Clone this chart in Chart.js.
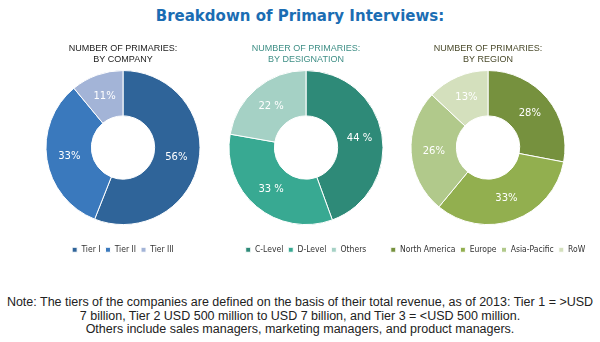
<!DOCTYPE html>
<html>
<head>
<meta charset="utf-8">
<script src="https://cdn.jsdelivr.net/npm/chart.js@4"></script>
<style>
    body { margin: 0; background: #fff; width: 600px; height: 342px; position: relative; overflow: hidden; }
    .title { position: absolute; top: 7px; left: 0; width: 600px; text-align: center;
        font: bold 15px "DejaVu Sans", sans-serif; color: #1b6db3; }
    .box { position: absolute; top: 40px; width: 236px; height: 224px; }
    .note { position: absolute; top: 296px; left: 0; width: 600px; text-align: center;
        font: 12.5px "Liberation Sans", Arial, sans-serif; line-height: 13.5px; color: #222; }
</style>
</head>
<body>
<div class="title">Breakdown of Primary Interviews:</div>
<div class="box" style="left:5px"><canvas id="company"></canvas></div>
<div class="box" style="left:188px"><canvas id="designation"></canvas></div>
<div class="box" style="left:370px"><canvas id="region"></canvas></div>
<div class="note">Note: The tiers of the companies are defined on the basis of their total revenue, as of 2013: Tier 1 = &gt;USD<br>7 billion, Tier 2 USD 500 million to USD 7 billion, and Tier 3 = &lt;USD 500 million.<br>Others include sales managers, marketing managers, and product managers.</div>
<script>
// data
const companyLabels = ['Tier I', 'Tier II', 'Tier III'];
const companyValues = [56, 33, 11];
const designationLabels = ['C-Level', 'D-Level', 'Others'];
const designationValues = [44, 33, 22];
const regionLabels = ['North America', 'Europe', 'Asia-Pacific', 'RoW'];
const regionValues = [28, 33, 26, 13];

// colours
const companyColors = ['#2f6499', '#3a79bd', '#a3b4d7'];
const designationColors = ['#2e8a78', '#38a992', '#a5d1c5'];
const regionColors = ['#76913e', '#92af4f', '#b1c98b', '#d4e0bd'];

// white % labels in the middle of each slice
const sliceLabels = {
    id: 'sliceLabels',
    afterDatasetsDraw(chart, args, opts) {
        const ctx = chart.ctx;
        const meta = chart.getDatasetMeta(0);
        const values = chart.data.datasets[0].data;
        ctx.save();
        ctx.fillStyle = '#ffffff';
        ctx.font = '10px "DejaVu Sans", sans-serif';
        ctx.textAlign = 'center';
        ctx.textBaseline = 'middle';
        meta.data.forEach((arc, i) => {
            const pos = arc.tooltipPosition();
            ctx.fillText(values[i] + opts.suffix, pos.x, pos.y);
        });
        ctx.restore();
    }
};

function makeDonut(canvasId, labels, values, colors, subtitle, subtitleColor, suffix) {
    return new Chart(document.getElementById(canvasId), {
        type: 'doughnut',
        data: {
            labels: labels,
            datasets: [{
                data: values,
                backgroundColor: colors,
                borderColor: '#ffffff',
                borderWidth: 1,
                radius: 77,
                cutout: 38
            }]
        },
        options: {
            responsive: true,
            maintainAspectRatio: false,
            animation: false,
            plugins: {
                title: {
                    display: true,
                    text: subtitle,
                    color: subtitleColor,
                    font: { size: 9, family: '"Liberation Sans", Arial, sans-serif', weight: 'normal' },
                    padding: { top: 3, bottom: -10 }
                },
                legend: {
                    position: 'bottom',
                    labels: {
                        boxWidth: 5,
                        boxHeight: 5,
                        padding: 5,
                        color: '#333',
                        font: { size: 8.5, family: '"DejaVu Sans Condensed", "Liberation Sans", sans-serif' }
                    }
                },
                tooltip: { enabled: false },
                sliceLabels: { suffix: suffix }
            }
        },
        plugins: [sliceLabels]
    });
}

makeDonut('company', companyLabels, companyValues, companyColors,
    ['NUMBER OF PRIMARIES:', 'BY COMPANY'], '#222', '%');
makeDonut('designation', designationLabels, designationValues, designationColors,
    ['NUMBER OF PRIMARIES:', 'BY DESIGNATION'], '#3f8f86', ' %');
makeDonut('region', regionLabels, regionValues, regionColors,
    ['NUMBER OF PRIMARIES:', 'BY REGION'], '#4b4b2c', '%');
</script>
</body>
</html>
